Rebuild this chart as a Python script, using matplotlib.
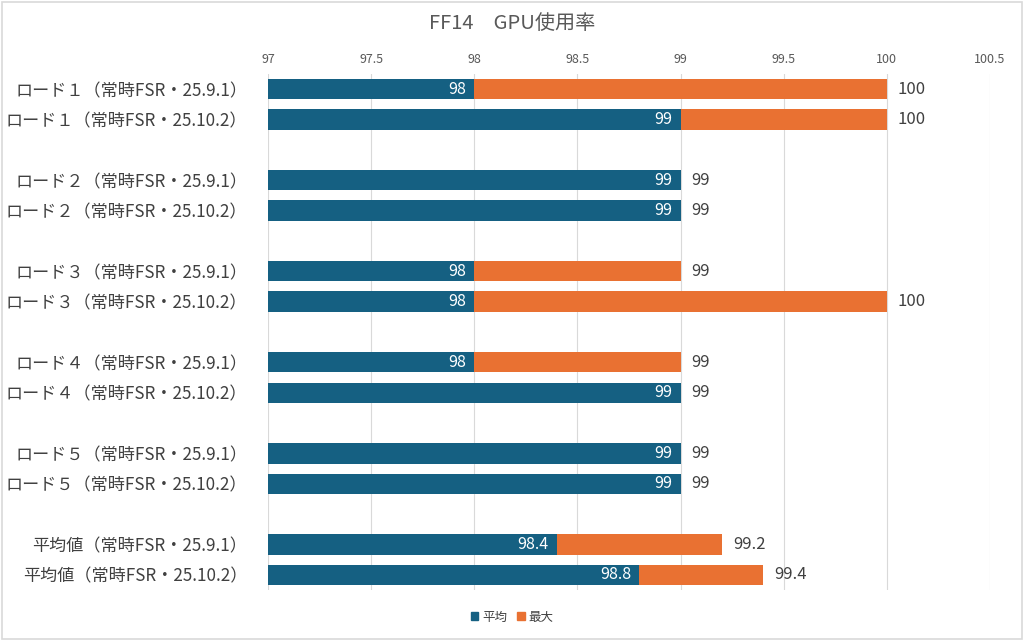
import matplotlib
matplotlib.use("Agg")
import matplotlib.pyplot as plt
from matplotlib.patches import Rectangle, Patch

plt.rcParams['font.family'] = ['Noto Sans CJK JP', 'DejaVu Sans']

title = "FF14　GPU使用率"
categories = [
    "ロード１（常時FSR・25.9.1）", "ロード１（常時FSR・25.10.2）", "",
    "ロード２（常時FSR・25.9.1）", "ロード２（常時FSR・25.10.2）", "",
    "ロード３（常時FSR・25.9.1）", "ロード３（常時FSR・25.10.2）", "",
    "ロード４（常時FSR・25.9.1）", "ロード４（常時FSR・25.10.2）", "",
    "ロード５（常時FSR・25.9.1）", "ロード５（常時FSR・25.10.2）", "",
    "平均値（常時FSR・25.9.1）", "平均値（常時FSR・25.10.2）",
]
avg_vals = [98, 99, None, 99, 99, None, 98, 98, None, 98, 99, None, 99, 99, None, 98.4, 98.8]
max_vals = [100, 100, None, 99, 99, None, 99, 100, None, 99, 99, None, 99, 99, None, 99.2, 99.4]
series_names = ["平均", "最大"]
x_ticks = [97, 97.5, 98, 98.5, 99, 99.5, 100, 100.5]
x_tick_labels = ["97", "97.5", "98", "98.5", "99", "99.5", "100", "100.5"]
x_min, x_max = 97, 100.5

blue = "#156082"
orange = "#E97132"
text_col = "#404040"

fig = plt.figure(figsize=(10.24, 6.41), dpi=100)
ax = fig.add_axes([0.2617, 0.0796, 0.7051, 0.805])

n = len(categories)
ys = list(range(n))
bh = 0.67
for y, a, m in zip(ys, avg_vals, max_vals):
    if a is None:
        continue
    ax.barh(y, a - x_min, left=x_min, height=bh, color=blue, zorder=3)
    if m - a > 0:
        ax.barh(y, m - a, left=a, height=bh, color=orange, zorder=3)
    ax.annotate(f"{a:g}", (a, y), xytext=(-6, 0), textcoords="offset points",
                ha="right", va="center", color="white", fontsize=11.5, zorder=4)
    ax.annotate(f"{m:g}", (m, y), xytext=(8, 0), textcoords="offset points",
                ha="left", va="center", color=text_col, fontsize=12, zorder=4)

ax.set_xlim(x_min, x_max)
ax.set_ylim(n - 0.5, -0.5)
ax.set_yticks(ys)
ax.set_yticklabels(categories, fontsize=12.3, color=text_col)
ax.set_xticks(x_ticks)
ax.set_xticklabels(x_tick_labels, fontsize=9, color="#595959")
ax.xaxis.tick_top()
ax.tick_params(axis='both', length=0)
ax.tick_params(axis='x', pad=6)
ax.tick_params(axis='y', pad=15)
for s in ax.spines.values():
    s.set_visible(False)
ax.grid(axis='x', color="#D9D9D9", linewidth=0.8, zorder=0)
ax.set_axisbelow(True)

fig.text(0.5, 0.963, title, ha="center", va="center", fontsize=14.5, color="#595959")

handles = [Patch(color=blue), Patch(color=orange)]
fig.legend(handles, series_names, loc="center", bbox_to_anchor=(0.5, 0.037),
           ncol=2, frameon=False, fontsize=9, handlelength=0.6, handleheight=0.6,
           handletextpad=0.3, columnspacing=0.8, labelcolor=text_col)

fig.patches.append(Rectangle((0.002, 0.003), 0.996, 0.994, transform=fig.transFigure,
                             fill=False, edgecolor="#D9D9D9", linewidth=1.2))

fig.savefig("out.png", dpi=100)
